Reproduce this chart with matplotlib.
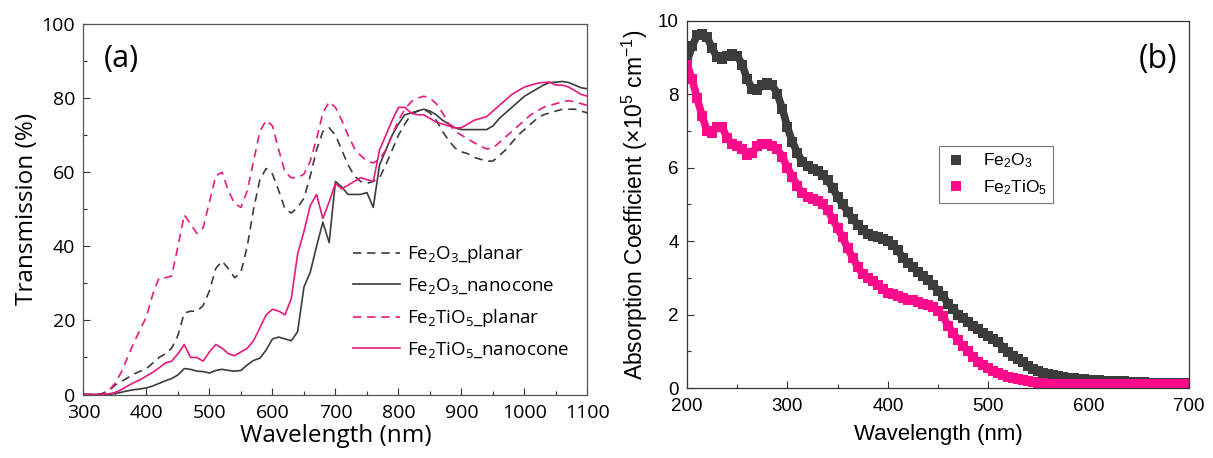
import matplotlib
matplotlib.use("Agg")
import matplotlib.pyplot as plt
import numpy as np
from matplotlib.ticker import MultipleLocator

plt.rcParams["mathtext.default"] = "regular"

# (a) transmission spectra, 10 nm step
wl_t = np.arange(300, 1101, 10)
fe2o3_planar = [
    0, 0, 0, 0.3, 1.0, 2.5, 3.5, 4.5, 5.5, 6.3,
    7.0, 8.5, 10, 11, 12.5, 16, 22, 22.5, 22.5, 24,
    28, 34, 36, 34, 31.5, 33, 40, 50, 58, 61,
    59.5, 55, 50, 49, 50.5, 53, 59, 66, 71, 72,
    70, 66, 62, 59, 57.5, 57, 57.5, 58.5, 62, 66,
    70, 73, 75.5, 76.5, 77, 76, 74, 71, 68.5, 66.5,
    65.5, 65, 64, 63.5, 63, 63, 64.5, 66, 68, 70,
    71.5, 73, 74.5, 75.5, 76, 76.5, 77, 77, 77, 76.5,
    76,
]
fe2o3_nanocone = [
    0, 0, 0, 0, 0, 0.3, 0.6, 1.0, 1.3, 1.5,
    1.8, 2.3, 3.0, 3.7, 4.3, 5.3, 7.0, 6.8, 6.3, 6.2,
    5.8, 6.5, 6.8, 6.5, 6.3, 6.5, 8.0, 9.2, 9.8, 12,
    15, 15.5, 15, 14.5, 17, 29, 33, 40, 46.5, 41,
    57.5, 56, 54, 54, 54, 54.5, 50.5, 62, 66, 70,
    73, 75.5, 76, 76.5, 77, 76.5, 75.5, 74, 73, 72,
    71.5, 71.5, 71.5, 71.5, 71.5, 72.5, 74.5, 76, 77.5, 79,
    80.5, 81.5, 82.5, 83.5, 84.2, 84.3, 84.5, 84.2, 83.5, 82.8,
    82.5,
]
fe2tio5_planar = [
    0, 0, 0, 0, 1.0, 3, 6, 10, 14, 17.5,
    21, 27, 31.5, 31.5, 32, 40, 48.5, 46, 43.5, 45,
    52, 59, 60, 55, 51.5, 50.5, 55, 63, 71, 74,
    72.5, 66, 60, 58.5, 58.5, 59.5, 63, 69, 76, 79,
    77.5, 74, 70, 66.5, 64.5, 63, 62.5, 63.5, 66, 70,
    74, 77, 79, 80, 80.5, 80, 78.5, 76, 73, 71,
    70, 69, 68, 67, 66.3, 66.5, 68, 69.5, 71, 72.5,
    74, 75.5, 76.5, 77.5, 78, 78.5, 79, 79.3, 79, 78.5,
    78,
]
fe2tio5_nanocone = [
    0, 0, 0, 0, 0.2, 0.5, 1.3, 2.3, 3.2, 4.0,
    5.0, 6.0, 7.2, 8.5, 9.0, 11, 13.5, 10, 10, 9,
    11.5, 13.5, 12.5, 11, 10.5, 11.5, 12.5, 14.5, 18, 21.5,
    23, 22.5, 21.5, 26, 38, 44, 51, 54, 47.5, 52,
    57, 55.5, 56.5, 57.5, 58.5, 58, 57.5, 66, 70, 74,
    77.5, 77.5, 76, 75.5, 75.5, 74.5, 73.5, 73, 72.5, 72,
    72, 73, 74, 74.5, 75, 76.5, 78, 79.5, 81, 82,
    83, 83.5, 84, 84.2, 84.3, 83.5, 83.5, 83, 82, 81,
    80.5,
]

# (b) absorption coefficient, 5 nm step, units of 1e5 cm^-1
wl_a = np.arange(200, 701, 5)
abs_fe2o3 = [
    8.9, 9.3, 9.6, 9.65, 9.55, 9.25, 9.0, 8.95, 9.05, 9.1,
    9.05, 8.8, 8.4, 8.15, 8.1, 8.25, 8.3, 8.25, 8.0, 7.6,
    7.1, 6.7, 6.4, 6.15, 6.05, 5.95, 5.9, 5.8, 5.65, 5.45,
    5.2, 5.0, 4.8, 4.6, 4.45, 4.3, 4.2, 4.15, 4.1, 4.05,
    4.0, 3.9, 3.75, 3.55, 3.4, 3.3, 3.15, 3.05, 2.95, 2.8,
    2.65, 2.5, 2.3, 2.15, 2.0, 1.9, 1.8, 1.7, 1.6, 1.5,
    1.42, 1.33, 1.24, 1.1, 0.97, 0.88, 0.79, 0.7, 0.6, 0.53,
    0.47, 0.42, 0.38, 0.35, 0.32, 0.3, 0.28, 0.26, 0.25, 0.24,
    0.23, 0.22, 0.21, 0.2, 0.2, 0.19, 0.18, 0.18, 0.17, 0.17,
    0.16, 0.16, 0.15, 0.15, 0.15, 0.14, 0.14, 0.14, 0.13, 0.13,
    0.13,
]
abs_fe2tio5 = [
    8.8, 8.4, 7.9, 7.4, 7.0, 6.95, 7.1, 7.1, 6.8, 6.65,
    6.6, 6.5, 6.35, 6.4, 6.6, 6.65, 6.65, 6.6, 6.5, 6.3,
    6.0, 5.75, 5.5, 5.3, 5.2, 5.15, 5.1, 5.0, 4.85, 4.6,
    4.35, 4.1, 3.8, 3.55, 3.3, 3.1, 3.0, 2.9, 2.8, 2.7,
    2.6, 2.55, 2.5, 2.45, 2.4, 2.4, 2.35, 2.3, 2.25, 2.2,
    2.1, 1.95, 1.7, 1.5, 1.3, 1.15, 1.0, 0.85, 0.72, 0.62,
    0.55, 0.47, 0.4, 0.35, 0.3, 0.27, 0.24, 0.21, 0.18, 0.16,
    0.14, 0.13, 0.12, 0.11, 0.1, 0.1, 0.1, 0.1, 0.1, 0.1,
    0.1, 0.1, 0.1, 0.1, 0.1, 0.1, 0.1, 0.1, 0.1, 0.1,
    0.1, 0.1, 0.1, 0.1, 0.1, 0.1, 0.1, 0.1, 0.1, 0.1,
    0.1,
]

DARK = "#3c3c3c"
PINK_A = "#e8197f"
PINK_B = "#ff0a8a"

fig = plt.figure(figsize=(12.13, 4.58), dpi=100)

# ---- panel (a) ----
fa = "Open Sans"
ax1 = fig.add_axes([0.0688, 0.1386, 0.4155, 0.809])
dash = (0, (5, 3.5))
ax1.plot(wl_t, fe2o3_planar, color=DARK, lw=1.2, ls=dash, label=r"Fe$_2$O$_3$_planar")
ax1.plot(wl_t, fe2o3_nanocone, color=DARK, lw=1.2, label=r"Fe$_2$O$_3$_nanocone")
ax1.plot(wl_t, fe2tio5_planar, color=PINK_A, lw=1.2, ls=dash, label=r"Fe$_2$TiO$_5$_planar")
ax1.plot(wl_t, fe2tio5_nanocone, color=PINK_A, lw=1.2, label=r"Fe$_2$TiO$_5$_nanocone")
ax1.set_xlim(300, 1100)
ax1.set_ylim(0, 100)
ax1.xaxis.set_major_locator(MultipleLocator(100))
ax1.xaxis.set_minor_locator(MultipleLocator(50))
ax1.yaxis.set_major_locator(MultipleLocator(20))
ax1.yaxis.set_minor_locator(MultipleLocator(10))
ax1.tick_params(which="both", direction="in", top=False, right=False,
                labelsize=14, width=0.8, color="#333333")
ax1.tick_params(which="major", length=5)
ax1.tick_params(which="minor", length=3)
ax1.tick_params(axis="x", pad=7)
ax1.tick_params(axis="y", pad=6)
for lab in ax1.get_xticklabels() + ax1.get_yticklabels():
    lab.set_fontfamily(fa)
ax1.set_xlabel("Wavelength (nm)", family=fa, fontsize=17.5, labelpad=1)
ax1.set_ylabel("Transmission (%)", family=fa, fontsize=17.5, labelpad=2)
ax1.text(0.04, 0.885, "(a)", transform=ax1.transAxes, family=fa, fontsize=22)
for s in ax1.spines.values():
    s.set_color("#555555")
    s.set_linewidth(0.9)
leg1 = ax1.legend(loc="upper left", bbox_to_anchor=(0.52, 0.428), frameon=False,
                  prop={"family": fa, "size": 13.5}, handlelength=2.5,
                  handletextpad=0.4, labelspacing=0.6, borderaxespad=0)

# ---- panel (b) ----
fb = "Liberation Sans"
ax2 = fig.add_axes([0.5664, 0.1528, 0.4138, 0.802])
# a thick connecting line under the square markers keeps each band solid
ax2.plot(wl_a, abs_fe2o3, ls="-", lw=5.5, marker="s", ms=7.5, color=DARK,
         markeredgewidth=0, label=r"Fe$_2$O$_3$")
ax2.plot(wl_a, abs_fe2tio5, ls="-", lw=5.5, marker="s", ms=7.5, color=PINK_B,
         markeredgewidth=0, label=r"Fe$_2$TiO$_5$")
ax2.set_xlim(200, 700)
ax2.set_ylim(0, 10)
ax2.xaxis.set_major_locator(MultipleLocator(100))
ax2.xaxis.set_minor_locator(MultipleLocator(50))
ax2.yaxis.set_major_locator(MultipleLocator(2))
ax2.yaxis.set_minor_locator(MultipleLocator(1))
ax2.tick_params(which="both", direction="in", top=False, right=False,
                labelsize=13.5, width=0.8, color="#333333")
ax2.tick_params(which="major", length=5)
ax2.tick_params(which="minor", length=3)
ax2.tick_params(axis="x", pad=7)
ax2.tick_params(axis="y", pad=6)
for lab in ax2.get_xticklabels() + ax2.get_yticklabels():
    lab.set_fontfamily(fb)
ax2.set_xlabel("Wavelength (nm)", family=fb, fontsize=16, labelpad=7)
ax2.set_ylabel(r"Absorption Coefficient ($\times$10$^5$ cm$^{-1}$)", family=fb,
               fontsize=16.5, labelpad=6)
ax2.text(0.9, 0.87, "(b)", transform=ax2.transAxes, family=fa, fontsize=23)
for s in ax2.spines.values():
    s.set_color("#333333")
    s.set_linewidth(0.9)
leg2 = ax2.legend(loc="upper left", bbox_to_anchor=(0.502, 0.66), frameon=True,
                  fancybox=False, edgecolor="#555555", prop={"family": fb, "size": 12.5},
                  markerscale=1.0, handlelength=1.2, handletextpad=1.0,
                  borderpad=0.35, labelspacing=0.45, borderaxespad=0)
for h in leg2.legend_handles:
    h.set_linestyle("none")
leg2.get_frame().set_linewidth(0.8)

fig.savefig("out.png", dpi=100)
